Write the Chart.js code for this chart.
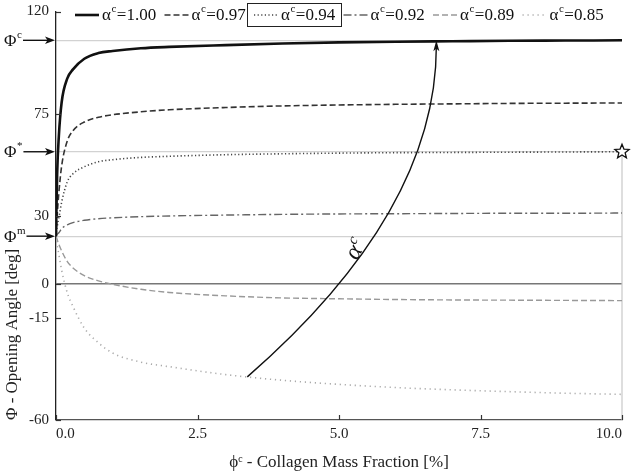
<!DOCTYPE html>
<html>
<head>
<meta charset="utf-8">
<script src="https://cdn.jsdelivr.net/npm/chart.js@4.4.0/dist/chart.umd.min.js"></script>
<style>
  html, body { margin: 0; padding: 0; background: #fff; }
  #wrap { width: 632px; height: 475px; }
</style>
</head>
<body>
<div id="wrap"><canvas id="myChart" width="632" height="475"></canvas></div>
<script>
// collagen mass fraction [%] (shared x values)
const phiC = [0, 0.02, 0.05, 0.1, 0.2, 0.3, 0.5, 0.75, 1, 1.5, 2, 3, 4, 5, 6, 7, 8, 9, 10];

// opening angle [deg] for each alpha^c
const alpha100 = [21, 48, 65, 80, 90.5, 94.5, 99.2, 101.7, 102.6, 103.8, 104.4, 105.2, 105.9, 106.4, 106.7, 106.9, 107.1, 107.2, 107.3];
const alpha097 = [21, 30, 40, 52, 63, 67.5, 71.3, 73.4, 74.5, 75.8, 76.7, 77.7, 78.4, 78.8, 79.1, 79.3, 79.5, 79.6, 79.7];
const alpha094 = [21, 25, 29, 36, 45, 48.5, 51.6, 53.8, 54.7, 55.7, 56.2, 56.9, 57.3, 57.6, 57.8, 57.9, 58.0, 58.1, 58.2];
const alpha092 = [21, 21.8, 22.5, 24.3, 26, 27, 28, 28.7, 29.1, 29.6, 29.9, 30.3, 30.6, 30.8, 30.9, 31, 31.1, 31.1, 31.2];
const alpha089 = [21, 19.5, 17.5, 14.5, 9.8, 7, 3.6, 1.3, -0.2, -2.4, -3.8, -5.3, -6.2, -6.6, -6.9, -7.1, -7.2, -7.3, -7.4];
const alpha085 = [21, 17, 13, 6, -4, -10, -19.5, -26, -30.5, -34.5, -36.5, -40, -42.5, -44.3, -45.7, -46.7, -47.5, -48.2, -48.7];

const alphaLabels = ['1.00', '0.97', '0.94', '0.92', '0.89', '0.85'];
const xTicks = [0, 2.5, 5, 7.5, 10];
const yTicks = [-60, -15, 0, 30, 75, 120];

// reference angles Phi^m, Phi^*, Phi^c
const refNames = ['m', '*', 'c'];
const refValues = [21, 58.2, 107.3];

const serif = '"Liberation Serif", "Times New Roman", serif';

const series = [alpha100, alpha097, alpha094, alpha092, alpha089, alpha085];
const lineStyles = [
  { borderColor: '#111', borderWidth: 2.6, borderDash: [] },
  { borderColor: '#333', borderWidth: 1.6, borderDash: [6, 3] },
  { borderColor: '#444', borderWidth: 1.6, borderDash: [1.2, 2.4] },
  { borderColor: '#666', borderWidth: 1.4, borderDash: [8, 3, 2, 3] },
  { borderColor: '#999', borderWidth: 1.4, borderDash: [6, 3] },
  { borderColor: '#aaa', borderWidth: 1.6, borderDash: [1.2, 3.8] }
];
const boxedItem = 2;

function arrowHead(ctx, x, y, dx, dy, len, half) {
  const n = Math.hypot(dx, dy);
  const ux = dx / n, uy = dy / n;
  ctx.beginPath();
  ctx.moveTo(x, y);
  ctx.lineTo(x - ux * len - uy * half, y - uy * len + ux * half);
  ctx.lineTo(x - ux * len * 0.75, y - uy * len * 0.75);
  ctx.lineTo(x - ux * len + uy * half, y - uy * len - ux * half);
  ctx.closePath();
  ctx.fill();
}

// draw "base" + small raised superscript, returns end x
function supText(ctx, x, y, base, sup, size, italic) {
  const st = italic ? 'italic ' : '';
  ctx.font = st + size + 'px ' + serif;
  ctx.fillText(base, x, y);
  const w = ctx.measureText(base).width;
  ctx.font = st + Math.round(size * 0.62) + 'px ' + serif;
  ctx.fillText(sup, x + w + 0.5, y - size * 0.38);
  return x + w + 0.5 + ctx.measureText(sup).width;
}

const decorations = {
  id: 'decorations',
  beforeDatasetsDraw(chart) {
    const { ctx, chartArea, scales: { x, y } } = chart;
    ctx.save();
    // right light border below the star
    ctx.strokeStyle = '#c8c8c8';
    ctx.lineWidth = 1.2;
    ctx.beginPath();
    ctx.moveTo(x.getPixelForValue(10), y.getPixelForValue(refValues[1]));
    ctx.lineTo(x.getPixelForValue(10), chartArea.bottom);
    ctx.stroke();
    ctx.restore();
  },
  afterDraw(chart) {
    const { ctx, chartArea, scales: { x, y } } = chart;
    ctx.save();

    // inward tick marks
    ctx.strokeStyle = '#333';
    ctx.lineWidth = 1.2;
    yTicks.forEach(v => {
      const py = Math.round(y.getPixelForValue(v)) + 0.5;
      ctx.beginPath();
      ctx.moveTo(chartArea.left, py);
      ctx.lineTo(chartArea.left + 5, py);
      ctx.stroke();
    });
    xTicks.forEach(v => {
      const px = Math.round(x.getPixelForValue(v)) + 0.5;
      ctx.beginPath();
      ctx.moveTo(px, chartArea.bottom);
      ctx.lineTo(px, chartArea.bottom - 5);
      ctx.stroke();
    });

    // Phi labels with arrows
    ctx.fillStyle = '#111';
    ctx.strokeStyle = '#111';
    ctx.textBaseline = 'middle';
    ctx.textAlign = 'left';
    refValues.forEach((v, i) => {
      const py = y.getPixelForValue(v);
      const ex = supText(ctx, 4, py + 1, 'Φ', refNames[i], 17, false);
      ctx.lineWidth = 1.4;
      ctx.beginPath();
      ctx.moveTo(Math.max(ex + 1, 23), py);
      ctx.lineTo(chartArea.left - 6, py);
      ctx.stroke();
      arrowHead(ctx, chartArea.left - 1, py, 1, 0, 10, 3.8);
    });

    // star at the end of alpha = 0.94
    const sx = x.getPixelForValue(10), sy = y.getPixelForValue(refValues[1]);
    ctx.beginPath();
    for (let k = 0; k < 10; k++) {
      const r = k % 2 === 0 ? 7.5 : 3.3;
      const a = -Math.PI / 2 + k * Math.PI / 5;
      const px = sx + r * Math.cos(a), py = sy + r * Math.sin(a);
      if (k === 0) ctx.moveTo(px, py); else ctx.lineTo(px, py);
    }
    ctx.closePath();
    ctx.fillStyle = '#fff';
    ctx.fill();
    ctx.strokeStyle = '#111';
    ctx.lineWidth = 1.3;
    ctx.stroke();

    // alpha^c arrow
    const p0 = [x.getPixelForValue(3.38), y.getPixelForValue(-41)];
    const c1 = [x.getPixelForValue(6.72), y.getPixelForValue(31.5)];
    const p2 = [x.getPixelForValue(6.72), y.getPixelForValue(refValues[2])];
    ctx.strokeStyle = '#111';
    ctx.lineWidth = 1.4;
    ctx.beginPath();
    ctx.moveTo(p0[0], p0[1]);
    ctx.quadraticCurveTo(c1[0], c1[1], p2[0], p2[1] + 6);
    ctx.stroke();
    ctx.fillStyle = '#111';
    arrowHead(ctx, p2[0], p2[1], 0, -1, 11, 3);

    // alpha^c label
    ctx.save();
    ctx.translate(x.getPixelForValue(5.3), y.getPixelForValue(14.8));
    ctx.rotate(-62 * Math.PI / 180);
    ctx.textAlign = 'left';
    ctx.textBaseline = 'alphabetic';
    supText(ctx, -9, 6, 'α', 'c', 24, true);
    ctx.restore();

    // legend
    const lx0 = 75, step = 89.5, ly = 15;
    ctx.textBaseline = 'middle';
    chart.data.datasets.forEach((ds, i) => {
      const sx0 = lx0 + i * step;
      ctx.save();
      ctx.strokeStyle = ds.borderColor;
      ctx.lineWidth = ds.borderWidth;
      ctx.setLineDash(ds.borderDash);
      ctx.beginPath();
      ctx.moveTo(sx0, ly);
      ctx.lineTo(sx0 + 24, ly);
      ctx.stroke();
      ctx.restore();
      ctx.fillStyle = '#111';
      const ex = supText(ctx, sx0 + 27, ly + 1, 'α', 'c', 17, false);
      ctx.font = '17px ' + serif;
      ctx.fillText('=' + ds.label, ex + 0.5, ly + 1);
      if (i === boxedItem) {
        ctx.strokeStyle = '#222';
        ctx.lineWidth = 1;
        ctx.strokeRect(sx0 - 6.5, 3.5, 94, 23);
      }
    });
    ctx.restore();
  }
};

const ctx = document.getElementById('myChart').getContext('2d');
new Chart(ctx, {
  type: 'line',
  data: {
    datasets: series.map((vals, i) => ({
      label: alphaLabels[i],
      data: vals.map((v, j) => ({ x: phiC[j], y: v })),
      ...lineStyles[i],
      pointRadius: 0,
      fill: false,
      cubicInterpolationMode: 'monotone'
    }))
  },
  options: {
    responsive: false,
    animation: false,
    layout: { padding: { top: 11.5, right: 10, left: 0, bottom: 0 } },
    plugins: {
      legend: { display: false },
      tooltip: { enabled: false }
    },
    scales: {
      x: {
        type: 'linear',
        min: 0,
        max: 10,
        afterBuildTicks: (s) => { s.ticks = xTicks.map(v => ({ value: v })); },
        afterFit: (s) => { s.height = 55; s.paddingLeft = 0; s.paddingRight = 0; },
        grid: { display: false, drawTicks: false },
        border: { color: '#555', width: 1.3 },
        ticks: {
          callback: (v) => Number(v).toFixed(1),
          font: { family: serif, size: 15 },
          color: '#222',
          padding: 5,
          maxRotation: 0,
          align: 'inner'
        },
        title: {
          display: true,
          text: 'ϕᶜ - Collagen Mass Fraction [%]',
          font: { family: serif, size: 17 },
          color: '#222',
          padding: { top: 4, bottom: 2 }
        }
      },
      y: {
        type: 'linear',
        min: -60,
        max: 120,
        afterBuildTicks: (s) => {
          s.ticks = yTicks.concat(refValues).sort((a, b) => a - b).map(v => ({ value: v }));
        },
        afterFit: (s) => { s.width = 56; s.paddingTop = 0; s.paddingBottom = 0; },
        grid: {
          drawTicks: false,
          color: (c) => {
            const v = c.tick && c.tick.value;
            if (v === 0) return '#777';
            if (refValues.includes(v)) return '#d2d2d2';
            return 'rgba(0,0,0,0)';
          },
          lineWidth: (c) => (c.tick && c.tick.value === 0 ? 1.6 : 1.3)
        },
        border: { color: '#222', width: 1.3 },
        ticks: {
          callback: (v) => (yTicks.includes(v) ? String(v) : ''),
          font: { family: serif, size: 15 },
          color: '#222',
          padding: 7
        },
        title: {
          display: true,
          text: 'Φ - Opening Angle [deg]',
          align: 'start',
          font: { family: serif, size: 17 },
          color: '#222',
          padding: { top: 2, bottom: 2 }
        }
      }
    }
  },
  plugins: [decorations]
});
</script>
</body>
</html>
